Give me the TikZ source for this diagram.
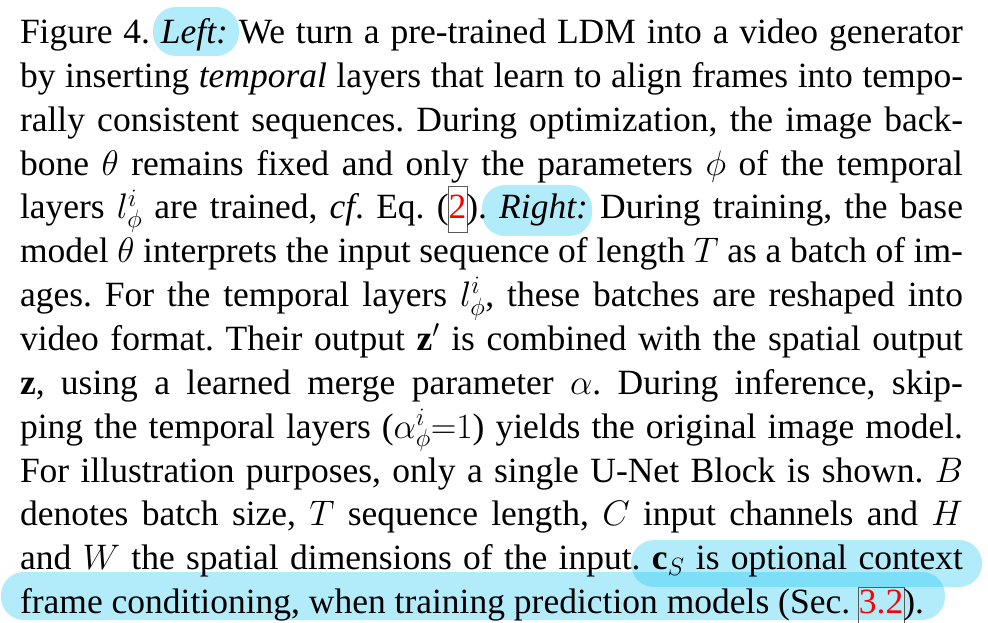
\RequirePackage{fix-cm}
\documentclass[tikz,border=0pt]{standalone}
\usepackage{fontspec}
\setmainfont{Liberation Serif}
\usepackage{xcolor}
\definecolor{hlcol}{RGB}{0,190,240}
\definecolor{linkframe}{RGB}{90,90,90}
\newcommand\lnk[3]{\makebox[0pt][l]{\kern-0.5pt{\color{linkframe}\fboxsep=0pt\fboxrule=0.9pt\fbox{\rule[-#1]{0pt}{#2}\phantom{#3}}}}\textcolor{red}{#3}}
\DeclareMathSizes{35.5}{35.5}{25}{18}
\tikzset{
  txtline/.style={inner sep=0pt, outer sep=0pt, anchor=base west, font=\fontsize{35.5}{43.85}\selectfont},
  hl/.style={fill=hlcol, fill opacity=0.3, draw=none, rounded corners=23pt}
}
\frenchspacing
\begin{document}
\begin{tikzpicture}[x=1pt,y=1pt]
\useasboundingbox (0,0) rectangle (988,622);
% highlights
\fill[hl] (153,566) rectangle (239,615);
\fill[hl] (482,386) rectangle (592,437);
\fill[hl] (631,35) rectangle (982,82);
\fill[hl] (1,2) rectangle (945,50);
% text lines
\node[txtline] (l1) at (20,578.5) {\makebox[943pt][s]{Figure 4. \emph{Left:} We turn a pre-trained LDM into a video generator}};
\node[txtline] (l2) at (20,534.65) {\makebox[943pt][s]{by inserting \emph{temporal} layers that learn to align frames into tempo-}};
\node[txtline] (l3) at (20,490.8) {\makebox[943pt][s]{rally consistent sequences. During optimization, the image back-}};
\node[txtline] (l4) at (20,446.95) {\makebox[943pt][s]{bone $\theta$ remains fixed and only the parameters $\phi$ of the temporal}};
\node[txtline] (l5) at (20,403.1) {\makebox[943pt][s]{layers $l^i_\phi$ are trained, \emph{cf}. Eq. (\lnk{13pt}{45pt}{2}). \emph{Right:} During training, the base}};
\node[txtline] (l6) at (20,359.25) {\makebox[943pt][s]{model $\theta$ interprets the input sequence of length $T$ as a batch of im-}};
\node[txtline] (l7) at (20,315.4) {\makebox[943pt][s]{ages. For the temporal layers $l^i_\phi$, these batches are reshaped into}};
\node[txtline] (l8) at (20,271.55) {\makebox[943pt][s]{video format. Their output $\mathbf{z}'$ is combined with the spatial output}};
\node[txtline] (l9) at (20,227.7) {\makebox[943pt][s]{$\mathbf{z}$, using a learned merge parameter $\alpha$. During inference, skip-}};
\node[txtline] (l10) at (20,183.85) {\makebox[943pt][s]{ping the temporal layers ($\alpha^i_\phi{=}1$) yields the original image model.}};
\node[txtline] (l11) at (20,140) {\makebox[943pt][s]{For illustration purposes, only a single U-Net Block is shown. $B$}};
\node[txtline] (l12) at (20,96.15) {\makebox[943pt][s]{denotes batch size, $T$ sequence length, $C$ input channels and $H$}};
\node[txtline] (l13) at (20,52.3) {\makebox[943pt][s]{and $W$ the spatial dimensions of the input. $\mathbf{c}_S$ is optional context}};
\node[txtline] (l14) at (20,8.45) {frame conditioning, when training prediction models (Sec. \lnk{9pt}{35pt}{3.2}).};
\end{tikzpicture}
\end{document}
